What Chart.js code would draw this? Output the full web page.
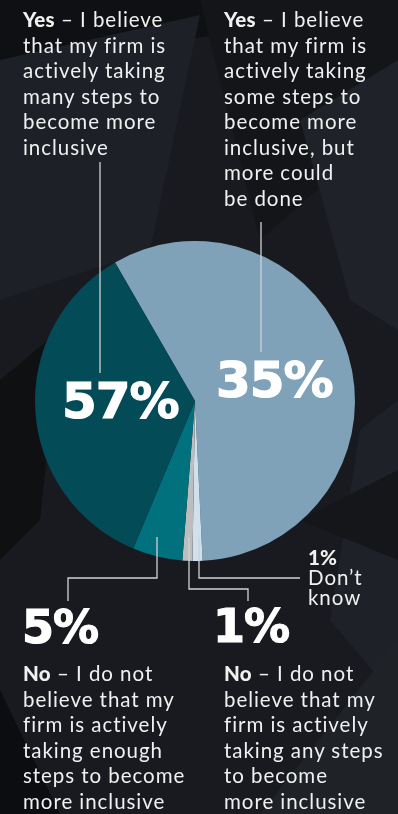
<!DOCTYPE html>
<html lang="en">
<head>
    <meta charset="UTF-8">
    <title>Inclusive firm survey</title>
    <script src="https://cdn.jsdelivr.net/npm/chart.js"></script>
    <style>
        html, body {
            margin: 0;
            padding: 0;
            background-color: #17191e;
        }
        .wrap {
            position: relative;
            width: 398px;
            height: 814px;
            overflow: hidden;
            font-family: Lato, "Open Sans", sans-serif;
            color: #f0f0f0;
        }
        #pieChart {
            position: absolute;
            left: 0;
            top: 0;
        }
        .txt {
            position: absolute;
            font-size: 20.5px;
            font-weight: 400;
            line-height: 25.5px;
            letter-spacing: 0.95px;
            white-space: nowrap;
        }
        .txt b {
            font-weight: 900;
            letter-spacing: 0.2px;
        }
        .big {
            position: absolute;
            font-family: "DejaVu Sans", sans-serif;
            font-weight: bold;
            font-size: 50px;
            line-height: 52px;
            letter-spacing: -1px;
            color: #ffffff;
            -webkit-text-stroke: 1.2px #ffffff;
            white-space: nowrap;
        }
    </style>
</head>
<body>
    <div class="wrap">
        <canvas id="pieChart" width="398" height="814"></canvas>

        <div class="txt" style="left:23px; top:7px;"><b>Yes</b> – I believe<br>that my firm is<br>actively taking<br>many steps to<br>become more<br>inclusive</div>
        <div class="txt" style="left:224px; top:7px;"><b>Yes</b> – I believe<br>that my firm is<br>actively taking<br>some steps to<br>become more<br>inclusive, but<br>more could<br>be done</div>

        <div class="big" id="lblDark" style="left:62px; top:375px;"></div>
        <div class="big" id="lblLight" style="left:216px; top:354px;"></div>

        <div class="big" id="lblTeal" style="left:22px; top:601px; font-size:46px;"></div>
        <div class="big" id="lblGray" style="left:213px; top:600px; font-size:46px;"></div>

        <div class="txt" style="left:308px; top:547px; line-height:20px;"><b id="lblPale"></b><br>Don’t<br>know</div>

        <div class="txt" style="left:23px; top:661px;"><b>No</b> – I do not<br>believe that my<br>firm is actively<br>taking enough<br>steps to become<br>more inclusive</div>
        <div class="txt" style="left:224px; top:661px;"><b>No</b> – I do not<br>believe that my<br>firm is actively<br>taking any steps<br>to become<br>more inclusive</div>
    </div>

    <script>
        // slice order, clockwise from the top-left edge
        const sliceNames = ['Yes – some steps', 'Don’t know', 'No – not any steps', 'No – not enough steps', 'Yes – many steps'];
        const sliceValues = [57, 1, 1, 5, 35];
        const sliceLabels = ['35%', '1%', '1%', '5%', '57%'];
        const sliceColors = ['#7fa2b9', '#cfe0ee', '#bdbdbd', '#00717d', '#034b57'];

        document.getElementById('lblLight').textContent = sliceLabels[0];
        document.getElementById('lblPale').textContent = sliceLabels[1];
        document.getElementById('lblGray').textContent = sliceLabels[2];
        document.getElementById('lblTeal').textContent = sliceLabels[3];
        document.getElementById('lblDark').textContent = sliceLabels[4];

        // dark shard background
        const backdrop = {
            id: 'backdrop',
            beforeDraw(chart) {
                const ctx = chart.ctx;
                ctx.save();
                ctx.fillStyle = '#181a1f';
                ctx.fillRect(0, 0, chart.width, chart.height);
                const shards = [
                    ['#0f1013', [[0,0],[398,0],[398,15],[0,60]]],
                    ['#1d2026', [[0,60],[200,15],[150,250],[0,300]]],
                    ['#131519', [[200,0],[398,0],[398,120],[260,240]]],
                    ['#1f2228', [[300,120],[398,60],[398,330],[350,300]]],
                    ['#0e1012', [[0,380],[60,330],[40,520],[0,560]]],
                    ['#1e2127', [[360,430],[398,400],[398,700],[330,620]]],
                    ['#0c0d10', [[0,690],[60,814],[0,814]]],
                    ['#1f2227', [[260,814],[398,640],[398,814]]],
                    ['#141619', [[300,520],[398,470],[398,560]]]
                ];
                shards.forEach(([c, pts]) => {
                    ctx.fillStyle = c;
                    ctx.beginPath();
                    pts.forEach((p, i) => i ? ctx.lineTo(p[0], p[1]) : ctx.moveTo(p[0], p[1]));
                    ctx.closePath();
                    ctx.fill();
                });
                ctx.restore();
            }
        };

        // thin leader lines from the labels to the slices
        const leaders = {
            id: 'leaders',
            afterDraw(chart) {
                const ctx = chart.ctx;
                const paths = [
                    [[100,162],[100,373]],
                    [[261,222],[261,352]],
                    [[157,537],[157,578],[68,578],[68,601]],
                    [[189,537],[189,589],[248,589],[248,601]],
                    [[199,537],[199,578],[300,578]]
                ];
                ctx.save();
                ctx.strokeStyle = '#cfd3d6';
                ctx.lineWidth = 1.3;
                paths.forEach(pts => {
                    ctx.beginPath();
                    pts.forEach((p, i) => i ? ctx.lineTo(p[0], p[1]) : ctx.moveTo(p[0], p[1]));
                    ctx.stroke();
                });
                ctx.restore();
            }
        };

        const pieChart = new Chart(document.getElementById('pieChart').getContext('2d'), {
            type: 'pie',
            data: {
                labels: sliceNames,
                datasets: [{
                    data: sliceValues,
                    backgroundColor: sliceColors,
                    borderWidth: 0
                }]
            },
            options: {
                responsive: false,
                animation: false,
                rotation: -30,
                layout: {
                    padding: { left: 35, right: 43, top: 241, bottom: 253 }
                },
                plugins: {
                    legend: { display: false },
                    tooltip: { enabled: false }
                }
            },
            plugins: [backdrop, leaders]
        });
    </script>
</body>
</html>
